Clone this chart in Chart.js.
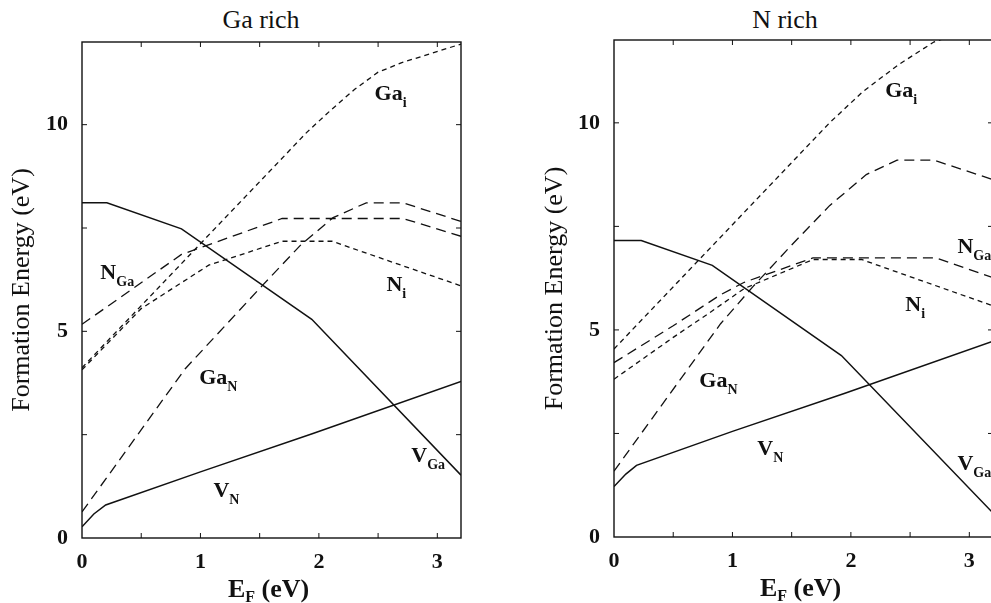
<!DOCTYPE html>
<html lang="en">
<head>
<meta charset="UTF-8">
<script src="https://cdn.jsdelivr.net/npm/chart.js@4"></script>
<title>Defect formation energies in GaN</title>
<style>
  html, body { margin: 0; padding: 0; background: #fff; }
  body { width: 991px; height: 603px; position: relative; overflow: hidden; }
  .panel { position: absolute; top: 0; height: 603px; }
  .title {
    position: absolute; top: 5px; transform: translateX(-50%);
    font-size: 26px; font-family: "Liberation Serif", Tinos, "Times New Roman", "DejaVu Serif", serif;
    color: #111; white-space: nowrap;
  }
</style>
</head>
<body>
<div class="title" style="left:261px">Ga rich</div>
<div class="title" style="left:785px">N rich</div>
<div class="panel" style="left:0;width:480px"><canvas id="gaRich"></canvas></div>
<div class="panel" style="left:533px;width:470px"><canvas id="nRich"></canvas></div>
<script>
// [E_F (eV), formation energy (eV)]
const gaRichVGa = [[0, 8.11], [0.21, 8.11], [0.84, 7.48], [1.94, 5.29], [3.2, 1.52]];
const gaRichVN  = [[0, 0.27], [0.1, 0.58], [0.2, 0.8], [1.0, 1.6], [1.95, 2.53], [3.2, 3.79]];
const gaRichGaN = [[0, 0.63], [0.87, 4.09], [1.52, 6.1], [1.85, 7.1], [2.12, 7.75], [2.4, 8.11], [2.71, 8.11], [3.2, 7.66]];
const gaRichNGa = [[0, 5.17], [0.84, 6.86], [1.69, 7.73], [2.71, 7.73], [3.2, 7.3]];
const gaRichGai = [[0, 4.12], [1.9, 9.82], [2.1, 10.35], [2.3, 10.85], [2.5, 11.27], [2.7, 11.5], [3.2, 11.95]];
const gaRichNi  = [[0, 4.07], [0.5, 5.55], [1.07, 6.6], [1.69, 7.18], [2.11, 7.18], [3.2, 6.1]];

const nRichVGa = [[0, 7.16], [0.23, 7.16], [0.83, 6.56], [1.92, 4.38], [3.2, 0.58]];
const nRichVN  = [[0, 1.22], [0.1, 1.52], [0.19, 1.73], [1.0, 2.55], [1.95, 3.47], [3.2, 4.73]];
const nRichGaN = [[0, 1.59], [0.9, 5.15], [1.175, 6.05], [1.5, 7.05], [1.82, 8.0], [2.13, 8.75], [2.39, 9.1], [2.7, 9.1], [3.2, 8.63]];
const nRichNGa = [[0, 4.21], [0.5, 5.1], [0.9, 5.85], [1.1, 6.15], [1.68, 6.74], [2.72, 6.74], [3.2, 6.26]];
const nRichGai = [[0, 4.54], [1.82, 10.0], [2.1, 10.75], [2.4, 11.4], [2.7, 11.95], [3.2, 12.45]];
const nRichNi  = [[0, 3.81], [0.5, 4.82], [0.81, 5.42], [1.1, 6.0], [1.68, 6.7], [2.09, 6.7], [3.2, 5.58]];

// curve labels: [symbol, subscript, E_F, energy]
const gaRichLabels = [['Ga', 'i', 2.47, 10.6], ['N', 'Ga', 0.155, 6.27], ['N', 'i', 2.57, 5.98],
                      ['Ga', 'N', 0.99, 3.73], ['V', 'N', 1.11, 0.99], ['V', 'Ga', 2.78, 1.83]];
const nRichLabels = [['Ga', 'i', 2.29, 10.63], ['N', 'Ga', 2.9, 6.85], ['N', 'i', 2.46, 5.46],
                     ['Ga', 'N', 0.72, 3.61], ['V', 'N', 1.21, 1.97], ['V', 'Ga', 2.9, 1.61]];

// tick marks (every one gets an inward mark, only the labelled ones get text)
const xTickMarks = [0, 0.5, 1, 1.5, 2, 2.5, 3];
const yTickMarks = [0, 2.5, 5, 7.5, 10];
const xTickLabels = [0, 1, 2, 3];
const yTickLabels = [0, 5, 10];

const INK = '#111';
const SERIF = '"Liberation Serif", Tinos, "Times New Roman", "DejaVu Serif", serif';
const SOLID = [], SHORT = [5, 4], LONG = [10, 6];

function line(points, dash) {
  return {
    data: points.map(p => ({ x: p[0], y: p[1] })),
    borderColor: INK,
    borderWidth: dash.length ? 1.3 : 1.5,
    borderDash: dash,
    pointRadius: 0,
    tension: 0,
    fill: false
  };
}

const decor = {
  id: 'decor',
  afterDatasetsDraw(chart, args, opts) {
    const { ctx, chartArea: a, scales: { x, y } } = chart;
    ctx.save();
    ctx.strokeStyle = INK;
    ctx.lineWidth = 1.4;
    ctx.strokeRect(a.left, a.top, a.right - a.left, a.bottom - a.top);

    // inward tick marks on all four sides
    ctx.lineWidth = 1;
    ctx.beginPath();
    x.ticks.forEach(t => {
      if (t.value <= x.min || t.value >= x.max) return;
      const px = x.getPixelForValue(t.value);
      ctx.moveTo(px, a.bottom); ctx.lineTo(px, a.bottom - 5);
      ctx.moveTo(px, a.top); ctx.lineTo(px, a.top + 5);
    });
    y.ticks.forEach(t => {
      if (t.value <= y.min || t.value >= y.max) return;
      const py = y.getPixelForValue(t.value);
      ctx.moveTo(a.left, py); ctx.lineTo(a.left + 5, py);
      ctx.moveTo(a.right, py); ctx.lineTo(a.right - 5, py);
    });
    ctx.stroke();

    // curve labels with subscripts
    ctx.fillStyle = INK;
    ctx.textBaseline = 'alphabetic';
    ctx.textAlign = 'left';
    opts.labels.forEach(([main, sub, lx, ly]) => {
      const px = x.getPixelForValue(lx), py = y.getPixelForValue(ly);
      ctx.font = 'bold 22px ' + SERIF;
      ctx.fillText(main, px, py);
      const w = ctx.measureText(main).width;
      ctx.font = 'bold 14px ' + SERIF;
      ctx.fillText(sub, px + w, py + 7);
    });

    // x axis title E_F (eV)
    ctx.font = 'bold 26px ' + SERIF;
    const wE = ctx.measureText('E').width;
    const wRest = ctx.measureText(' (eV)').width;
    ctx.font = 'bold 16px ' + SERIF;
    const wF = ctx.measureText('F').width;
    const total = wE + wF + wRest;
    let tx = (a.left + a.right) / 2 - total / 2 - 3;
    const ty = a.bottom + 59;
    ctx.font = 'bold 26px ' + SERIF;
    ctx.fillText('E', tx, ty);
    tx += wE;
    ctx.font = 'bold 16px ' + SERIF;
    ctx.fillText('F', tx, ty + 5);
    tx += wF;
    ctx.font = 'bold 26px ' + SERIF;
    ctx.fillText(' (eV)', tx, ty);
    ctx.restore();
  }
};

function makeChart(id, series, labels, pad, yWidth, xHeight) {
  new Chart(document.getElementById(id), {
    type: 'line',
    data: {
      datasets: [
        line(series[0], SOLID), line(series[1], SOLID),
        line(series[2], LONG), line(series[3], LONG),
        line(series[4], SHORT), line(series[5], SHORT)
      ]
    },
    options: {
      responsive: true,
      maintainAspectRatio: false,
      animation: false,
      layout: { padding: pad },
      plugins: { legend: { display: false }, tooltip: { enabled: false }, decor: { labels: labels } },
      scales: {
        x: {
          type: 'linear', min: 0, max: 3.2,
          grid: { display: false, drawTicks: false },
          border: { display: false },
          afterBuildTicks: s => { s.ticks = xTickMarks.map(v => ({ value: v })); },
          ticks: {
            autoSkip: false, maxRotation: 0, padding: 11, color: INK,
            font: { family: SERIF, size: 22, weight: 'bold' },
            callback: v => xTickLabels.includes(v) ? String(v) : ''
          },
          afterFit: s => { s.height = xHeight; }
        },
        y: {
          min: 0, max: 12,
          grid: { display: false, drawTicks: false },
          border: { display: false },
          afterBuildTicks: s => { s.ticks = yTickMarks.map(v => ({ value: v })); },
          ticks: {
            autoSkip: false, padding: 14, color: INK,
            font: { family: SERIF, size: 22, weight: 'bold' },
            callback: v => yTickLabels.includes(v) ? String(v) : ''
          },
          title: {
            display: true, text: 'Formation Energy (eV)', color: INK,
            font: { family: SERIF, size: 26 }, padding: { top: 7, bottom: 0 }
          },
          afterFit: s => { s.width = yWidth; }
        }
      }
    },
    plugins: [decor]
  });
}

makeChart('gaRich', [gaRichVGa, gaRichVN, gaRichGaN, gaRichNGa, gaRichGai, gaRichNi], gaRichLabels,
  { top: 42, right: 19, bottom: 0, left: 0 }, 82, 65);
makeChart('nRich', [nRichVGa, nRichVN, nRichGaN, nRichNGa, nRichGai, nRichNi], nRichLabels,
  { top: 40, right: 10, bottom: 0, left: 0 }, 81, 66);
</script>
</body>
</html>
